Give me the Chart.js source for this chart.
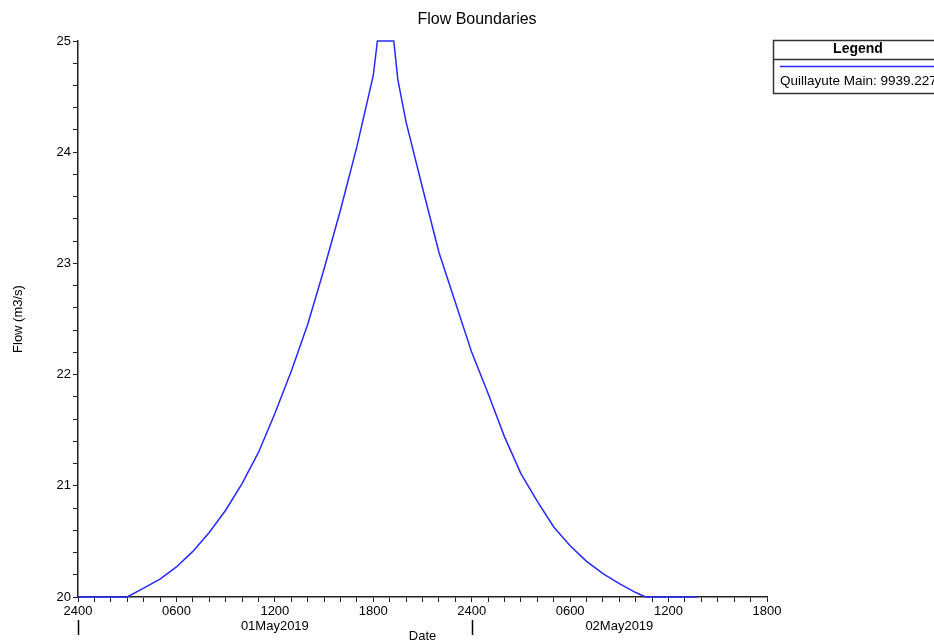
<!DOCTYPE html>
<html>
<head>
<meta charset="utf-8">
<script src="https://cdn.jsdelivr.net/npm/chart.js@4.4.1/dist/chart.umd.min.js"></script>
<style>
  html, body { margin:0; padding:0; background:#fff; }
  #wrap { width:934px; height:643px; position:relative; }
</style>
</head>
<body>
<div id="wrap"><canvas id="chart"></canvas></div>
<script>
// hours since 2400 30Apr2019, flow in m3/s
const hours = [0,1,2,3,4,5,6,7,8,9,10,11,12,13,14,15,16,17,18,18.25,19.25,19.5,20,21,22,23,24,25,26,27,28,29,30,31,32,33,34,34.6,37.75];
const flow  = [20,20,20,20,20.08,20.16,20.27,20.41,20.58,20.78,21.02,21.30,21.65,22.03,22.45,22.95,23.48,24.05,24.69,25,25,24.65,24.27,23.68,23.1,22.65,22.2,21.83,21.44,21.11,20.86,20.63,20.46,20.32,20.21,20.12,20.04,20,20];

const xLabelHours = [0,6,12,18,24,30,36,42];
const xTickLabels = ['2400','0600','1200','1800','2400','0600','1200','1800'];
const yMajor = [20,21,22,23,24,25];
const days = ['01May2019','02May2019'];
const dayStarts = [0,24];
const dayEnds = [24,42];
const seriesName = 'Quillayute Main: 9939.227';

const FONT = '"Liberation Sans", Arial, sans-serif';
Chart.defaults.font.family = FONT;
Chart.defaults.font.size = 13;
Chart.defaults.color = '#000';

// title, date row, day separators and the boxed legend
const extras = {
  id: 'extras',
  afterDraw(chart) {
    const { ctx, scales: { x } } = chart;
    const ds = chart.data.datasets[0];
    ctx.save();
    ctx.fillStyle = '#000';
    ctx.textAlign = 'center';
    ctx.textBaseline = 'middle';
    ctx.font = '16px ' + FONT;
    ctx.fillText('Flow Boundaries', 477, 20);

    ctx.font = '13px ' + FONT;
    days.forEach((d, i) => {
      const cx = (x.getPixelForValue(dayStarts[i]) + x.getPixelForValue(dayEnds[i])) / 2;
      ctx.fillText(d, cx, 626);
    });
    ctx.strokeStyle = '#000';
    ctx.lineWidth = 1.5;
    dayStarts.forEach(h => {
      const px = Math.round(x.getPixelForValue(h)) + 0.5;
      ctx.beginPath(); ctx.moveTo(px, 620); ctx.lineTo(px, 635); ctx.stroke();
    });

    // legend box (runs off the right edge like the original)
    ctx.strokeStyle = '#333';
    ctx.lineWidth = 1.5;
    ctx.strokeRect(773.5, 40.5, 170, 53);
    ctx.beginPath(); ctx.moveTo(773.5, 59.5); ctx.lineTo(944, 59.5); ctx.stroke();
    ctx.font = 'bold 14px ' + FONT;
    ctx.fillText('Legend', 858, 49.5);
    ctx.strokeStyle = ds.borderColor;
    ctx.lineWidth = 1.5;
    ctx.beginPath(); ctx.moveTo(780, 66.5); ctx.lineTo(944, 66.5); ctx.stroke();
    ctx.font = '13.5px ' + FONT;
    ctx.textAlign = 'left';
    ctx.fillText(ds.label, 780, 81.5);
    ctx.restore();
  }
};

new Chart(document.getElementById('chart'), {
  type: 'line',
  data: {
    datasets: [{
      label: seriesName,
      data: hours.map((h, i) => ({ x: h, y: flow[i] })),
      borderColor: '#2828ff',
      borderWidth: 1.5,
      pointRadius: 0,
      tension: 0,
      fill: false,
      clip: 3
    }]
  },
  options: {
    responsive: true,
    maintainAspectRatio: false,
    animation: false,
    layout: { padding: { top: 41, right: 167, bottom: 0, left: 0 } },
    plugins: { legend: { display: false }, tooltip: { enabled: false }, title: { display: false } },
    scales: {
      x: {
        type: 'linear', min: 0, max: 42,
        afterFit(s) { s.height = 46; },
        border: { display: true, color: '#222', width: 1.5 },
        grid: { drawOnChartArea: false, drawTicks: true, tickLength: 5, color: '#222' },
        ticks: {
          stepSize: 1, autoSkip: false, maxRotation: 0, padding: 2,
          callback(v) { const i = xLabelHours.indexOf(v); return i < 0 ? '' : xTickLabels[i]; }
        },
        title: { display: true, text: 'Date', font: { size: 13, lineHeight: 1 }, padding: { top: 0, bottom: 0 } }
      },
      y: {
        min: 20, max: 25,
        afterFit(s) { s.width = 78; },
        border: { display: true, color: '#222', width: 1.5 },
        grid: { drawOnChartArea: false, drawTicks: true, tickLength: 5, color: '#222' },
        ticks: {
          stepSize: 0.2, autoSkip: false, padding: 2,
          callback(v) { const r = Math.round(v * 1000) / 1000; return yMajor.includes(r) ? String(r) : ''; }
        },
        title: { display: true, text: 'Flow (m3/s)', font: { size: 13, lineHeight: 1 }, padding: { top: 12 } }
      }
    }
  },
  plugins: [extras]
});
</script>
</body>
</html>
